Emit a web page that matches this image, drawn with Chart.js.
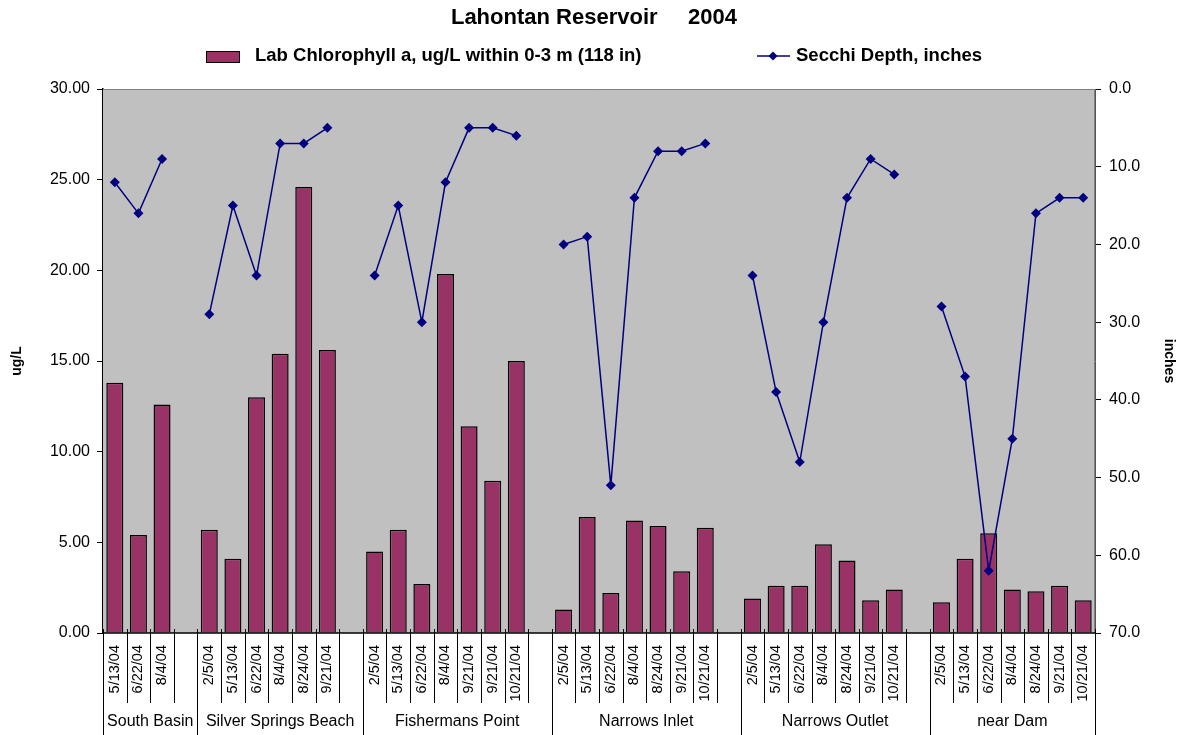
<!DOCTYPE html>
<html lang="en">
<head>
  <meta charset="UTF-8" />
  <title>Lahontan Reservoir 2004</title>
  <script src="https://cdn.jsdelivr.net/npm/chart.js"></script>
  <style>
    body { margin: 0; background: #fff; }
    .chart-wrap { width: 1182px; height: 735px; position: relative; }
  </style>
</head>
<body>
  <div class="chart-wrap">
    <canvas id="lahontanChart"></canvas>
  </div>

  <script>
    // sample dates per slot ('' = empty spacer slot between stations)
    const sampleDates = [
      '5/13/04', '6/22/04', '8/4/04', '',
      '2/5/04', '5/13/04', '6/22/04', '8/4/04', '8/24/04', '9/21/04', '',
      '2/5/04', '5/13/04', '6/22/04', '8/4/04', '9/21/04', '9/21/04', '10/21/04', '',
      '2/5/04', '5/13/04', '6/22/04', '8/4/04', '8/24/04', '9/21/04', '10/21/04', '',
      '2/5/04', '5/13/04', '6/22/04', '8/4/04', '8/24/04', '9/21/04', '10/21/04', '',
      '2/5/04', '5/13/04', '6/22/04', '8/4/04', '8/24/04', '9/21/04', '10/21/04'
    ];

    // station names and how many slots each one spans
    const stations = ['South Basin', 'Silver Springs Beach', 'Fishermans Point', 'Narrows Inlet', 'Narrows Outlet', 'near Dam'];
    const stationSlots = [4, 7, 8, 8, 8, 7];

    // Lab Chlorophyll a, ug/L
    const chlorophyll = [
      13.8, 5.4, 12.6, null,
      5.7, 4.1, 13.0, 15.4, 24.6, 15.6, null,
      4.5, 5.7, 2.7, 19.8, 11.4, 8.4, 15.0, null,
      1.3, 6.4, 2.2, 6.2, 5.9, 3.4, 5.8, null,
      1.9, 2.6, 2.6, 4.9, 4.0, 1.8, 2.4, null,
      1.7, 4.1, 5.5, 2.4, 2.3, 2.6, 1.8
    ];

    // Secchi depth, inches
    const secchi = [
      12, 16, 9, null,
      29, 15, 24, 7, 7, 5, null,
      24, 15, 30, 12, 5, 5, 6, null,
      20, 19, 51, 14, 8, 8, 7, null,
      24, 39, 48, 30, 14, 9, 11, null,
      28, 37, 62, 45, 16, 14, 14
    ];

    const chartTitle = 'Lahontan Reservoir     2004';
    const chloroLabel = 'Lab Chlorophyll a, ug/L within 0-3 m (118 in)';
    const secchiLabel = 'Secchi Depth, inches';

    const FONT = "'Liberation Sans', Arial, sans-serif";
    const BAR_COLOR = '#993366';
    const LINE_COLOR = '#000080';

    Chart.defaults.font.family = FONT;
    Chart.defaults.color = '#000';

    // draws plot background, title, legend and the two-level category axis
    const reservoirDecor = {
      id: 'reservoirDecor',
      beforeDatasetsDraw(chart) {
        const { ctx, chartArea: a } = chart;
        ctx.save();
        ctx.fillStyle = '#c0c0c0';
        ctx.fillRect(a.left, a.top, a.right - a.left, a.bottom - a.top);
        ctx.strokeStyle = '#808080';
        ctx.lineWidth = 1;
        ctx.beginPath();
        ctx.moveTo(a.left, a.top + 0.5);
        ctx.lineTo(a.right - 0.5, a.top + 0.5);
        ctx.lineTo(a.right - 0.5, a.bottom);
        ctx.stroke();
        ctx.restore();
      },
      afterDraw(chart) {
        const { ctx, chartArea: a, scales: { x } } = chart;
        ctx.save();

        // title
        ctx.fillStyle = '#000';
        ctx.font = 'bold 22px ' + FONT;
        ctx.textAlign = 'center';
        ctx.textBaseline = 'middle';
        ctx.fillText(chartTitle, 594, 18);

        // legend
        const ly = 56;
        ctx.fillStyle = BAR_COLOR;
        ctx.fillRect(206, 51, 33, 11);
        ctx.strokeStyle = '#000';
        ctx.lineWidth = 1;
        ctx.strokeRect(206.5, 51.5, 33, 11);
        ctx.font = 'bold 18.5px ' + FONT;
        ctx.fillStyle = '#000';
        ctx.textAlign = 'left';
        ctx.fillText(chloroLabel, 255, ly);

        ctx.strokeStyle = LINE_COLOR;
        ctx.lineWidth = 1.5;
        ctx.beginPath();
        ctx.moveTo(757, ly);
        ctx.lineTo(790, ly);
        ctx.stroke();
        ctx.fillStyle = LINE_COLOR;
        ctx.beginPath();
        ctx.moveTo(773, ly - 4.5);
        ctx.lineTo(777.5, ly);
        ctx.lineTo(773, ly + 4.5);
        ctx.lineTo(768.5, ly);
        ctx.closePath();
        ctx.fill();
        ctx.fillStyle = '#000';
        ctx.fillText(secchiLabel, 796, ly);

        // category axis line
        ctx.strokeStyle = '#000';
        ctx.lineWidth = 1.5;
        ctx.beginPath();
        ctx.moveTo(a.left, a.bottom);
        ctx.lineTo(a.right, a.bottom);
        ctx.stroke();

        const half = (x.getPixelForValue(1) - x.getPixelForValue(0)) / 2;
        const groupEnds = [];
        let acc = 0;
        stationSlots.forEach(n => { acc += n; groupEnds.push(acc); });

        // short ticks between dates, long ones between stations
        ctx.lineWidth = 1;
        ctx.strokeStyle = '#000';
        for (let i = 0; i <= sampleDates.length; i++) {
          const px = Math.round(x.getPixelForValue(i) - half) + 0.5;
          const isGroup = i === 0 || groupEnds.includes(i);
          ctx.beginPath();
          ctx.moveTo(px, a.bottom - 4);
          ctx.lineTo(px, isGroup ? 735 : a.bottom + 70);
          ctx.stroke();
        }

        // rotated dates
        ctx.font = '14.5px ' + FONT;
        ctx.fillStyle = '#000';
        ctx.textAlign = 'right';
        ctx.textBaseline = 'middle';
        sampleDates.forEach((d, i) => {
          if (!d) return;
          ctx.save();
          ctx.translate(x.getPixelForValue(i), a.bottom + 12);
          ctx.rotate(-Math.PI / 2);
          ctx.fillText(d, 0, 0);
          ctx.restore();
        });

        // station names
        ctx.font = '16px ' + FONT;
        ctx.textAlign = 'center';
        let start = 0;
        stations.forEach((name, g) => {
          const end = start + stationSlots[g];
          const left = x.getPixelForValue(start) - half;
          const right = x.getPixelForValue(end - 1) + half;
          ctx.fillText(name, (left + right) / 2, 722);
          start = end;
        });

        ctx.restore();
      }
    };

    new Chart(document.getElementById('lahontanChart'), {
      type: 'bar',
      data: {
        labels: sampleDates,
        datasets: [
          {
            type: 'line',
            label: secchiLabel,
            data: secchi,
            yAxisID: 'y1',
            borderColor: LINE_COLOR,
            backgroundColor: LINE_COLOR,
            borderWidth: 1.5,
            pointStyle: 'rectRot',
            pointRadius: 5,
            pointBorderWidth: 0,
            spanGaps: false,
            tension: 0,
            order: 0
          },
          {
            label: chloroLabel,
            data: chlorophyll,
            yAxisID: 'y',
            backgroundColor: BAR_COLOR,
            borderColor: '#000',
            borderWidth: 1.5,
            borderSkipped: 'bottom',
            categoryPercentage: 1.0,
            barPercentage: 0.72,
            order: 1
          }
        ]
      },
      options: {
        responsive: true,
        maintainAspectRatio: false,
        animation: false,
        layout: { padding: { top: 89, bottom: 102, left: 0, right: 0 } },
        plugins: {
          legend: { display: false },
          title: { display: false },
          tooltip: { enabled: false }
        },
        scales: {
          x: {
            display: false,
            offset: true
          },
          y: {
            position: 'left',
            min: 0,
            max: 30,
            afterFit: s => { s.width = 103; },
            ticks: {
              stepSize: 5,
              padding: 7,
              font: { size: 16 },
              callback: v => v.toFixed(2)
            },
            grid: { drawOnChartArea: false, drawTicks: true, tickLength: 6, color: '#000' },
            border: { display: true, color: '#000', width: 1.5 },
            title: { display: true, text: 'ug/L', font: { size: 14, weight: 'bold' }, padding: { top: 9 } }
          },
          y1: {
            position: 'right',
            reverse: true,
            min: 0,
            max: 70,
            afterFit: s => { s.width = 87; },
            ticks: {
              stepSize: 10,
              padding: 8,
              font: { size: 16 },
              callback: v => v.toFixed(1)
            },
            grid: { drawOnChartArea: false, drawTicks: true, tickLength: 6, color: '#000' },
            border: { display: true, color: '#555', width: 1 },
            title: { display: true, text: 'inches', font: { size: 14, weight: 'bold' }, padding: { top: 5 } }
          }
        }
      },
      plugins: [reservoirDecor]
    });
  </script>
</body>
</html>
